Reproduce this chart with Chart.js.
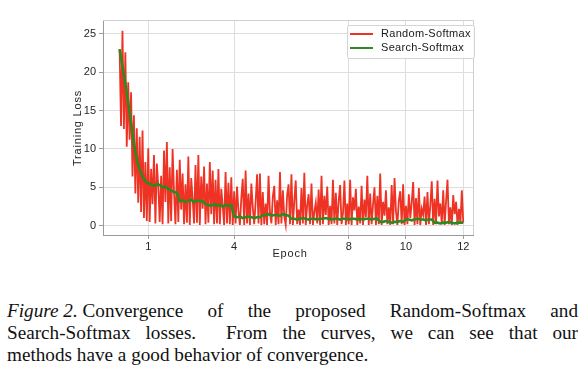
<!DOCTYPE html>
<html>
<head>
<meta charset="utf-8">
<script src="https://cdn.jsdelivr.net/npm/chart.js@4.4.1/dist/chart.umd.min.js"></script>
<style>
  html, body { margin: 0; padding: 0; background: #fff; width: 585px; height: 380px; overflow: hidden; }
  #wrap { position: absolute; left: 0; top: 0; width: 585px; height: 270px; }
  #caption {
    position: absolute; left: 7px; top: 300px; width: 571px;
    font-family: "Liberation Serif", "Times New Roman", serif; font-size: 19.2px;
    line-height: 22.2px; color: #111; white-space: nowrap;
  }
  #caption .j { text-align: justify; text-align-last: justify; }
  #caption .lab { display: inline-block; }
</style>
</head>
<body>
<div id="wrap"><canvas id="c" width="585" height="270"></canvas></div>
<div id="caption">
  <div class="j"><span class="lab"><i>Figure 2.</i>&nbsp;Convergence</span> of the proposed Random-Softmax and</div>
  <div class="j">Search-Softmax losses.&nbsp; From the curves, we can see that our</div>
  <div>methods have a good behavior of convergence.</div>
</div>
<script>
// ---- data ----
const seriesNames = ["Random-Softmax", "Search-Softmax"];
const epochTicks = [1, 4, 8, 10, 12];
const lossTicks = [0, 5, 10, 15, 20, 25];
const randomStep = 0.05;   // epochs between Random-Softmax samples
const searchStep = 0.1;    // epochs between Search-Softmax samples
const randomLoss = [
  23.0, 13.0, 25.4, 12.6, 22.6, 10.3, 18.7, 11.2, 17.4, 6.4,
  14.4, 4.2, 12.7, 3.0, 11.6, 1.8, 12.4, 1.0, 8.3, 0.6,
  10.1, 0.5, 7.4, 2.8, 9.2, 0.3, 8.1, 5.2, 0.5, 6.5,
  0.2, 9.8, 3.1, 10.9, 0.3, 7.6, 0.6, 10.0, 4.4, 0.2,
  7.3, 0.5, 8.6, 2.1, 6.8, 0.2, 5.4, 0.4, 9.0, 0.1,
  6.2, 3.5, 0.3, 7.9, 0.4, 9.2, 0.1, 6.4, 2.2, 7.7,
  0.2, 5.5, 0.4, 8.3, 1.5, 7.2, 0.2, 6.0, 0.3, 7.4,
  0.2, 4.8, 2.6, 0.1, 7.0, 0.3, 5.6, 0.2, 6.3, 0.1,
  4.5, 0.3, 5.1, 1.9, 0.1, 3.6, 6.1, 0.1, 7.2, 0.3,
  4.2, 0.1, 5.5, 2.4, 0.2, 3.1, 6.7, 0.3, 6.8, 0.1,
  4.4, 0.2, 2.9, 0.1, 6.5, 1.7, 0.3, 3.8, 5.2, 0.1,
  3.3, 0.2, 7.0, 0.3, 4.6, 1.2, 0.1, 4.0, 5.4, 0.2,
  6.7, 0.1, 3.2, 5.9, 0.2, 2.1, 0.1, 4.9, 0.3, 6.9,
  0.1, 2.7, 4.1, 0.2, 5.5, 0.1, 1.8, 3.0, 0.3, 4.7,
  0.1, 6.5, 0.2, 3.9, 1.4, 5.1, 0.1, 2.6, 0.2, 6.0,
  0.3, 4.3, 0.1, 3.2, 5.3, 0.2, 1.6, 5.9, 0.1, 2.9,
  0.2, 6.0, 0.1, 3.7, 2.0, 4.8, 0.1, 2.5, 0.3, 5.2,
  0.1, 3.4, 1.1, 6.5, 0.1, 4.2, 0.2, 2.8, 5.0, 0.1,
  3.9, 0.2, 6.8, 0.1, 3.1, 1.3, 4.6, 0.2, 2.4, 0.1,
  5.3, 0.2, 6.2, 1.9, 0.1, 3.3, 4.5, 0.2, 5.4, 0.1,
  2.6, 0.2, 4.1, 1.0, 3.0, 5.7, 0.1, 3.6, 0.2, 4.9,
  0.1, 2.2, 1.4, 3.8, 0.1, 4.4, 0.2, 2.7, 5.8, 0.1,
  3.5, 0.2, 5.9, 1.2, 2.9, 0.2, 4.6, 0.1, 3.2, 6.0,
  0.2, 2.4, 0.1, 4.0, 1.5, 3.1, 0.1, 2.2, 0.3, 4.6,
  0.4
];
const searchLoss = [
  23.0, 20.7, 18.5, 16.0, 13.5, 10.7, 8.6, 7.3, 6.4, 5.8,
  5.5, 5.4, 5.2, 5.4, 5.3, 5.0, 5.1, 4.8, 4.6, 4.4,
  4.3, 3.2, 3.3, 3.1, 3.2, 3.4, 3.1, 3.3, 3.2, 3.2,
  2.8, 2.7, 2.6, 2.8, 2.6, 2.7, 2.5, 2.7, 2.6, 2.7,
  1.2, 1.1, 1.2, 1.0, 1.1, 1.2, 1.1, 1.0, 1.1, 1.1,
  1.4, 1.4, 1.5, 1.3, 1.4, 1.4, 1.3, 1.5, 1.4, 1.3,
  0.9, 0.9, 0.8, 0.9, 1.0, 0.9, 0.8, 0.9, 0.9, 0.8,
  0.9, 0.9, 1.0, 0.9, 0.8, 0.9, 0.9, 0.8, 0.9, 0.9,
  0.8, 0.9, 0.9, 0.8, 0.9, 0.8, 0.9, 0.9, 0.8, 0.9,
  0.9, 0.5, 0.5, 0.6, 0.5, 0.4, 0.5, 0.5, 0.6, 0.5,
  0.8, 0.8, 0.7, 0.8, 0.9, 0.8, 0.8, 0.7, 0.8, 0.8,
  0.4, 0.4, 0.3, 0.4, 0.4, 0.5, 0.4, 0.3, 0.4, 0.4,
  0.4
];
const xLabel = "Epoch";
const yLabel = "Training Loss";

// ---- styling ----
const RED = "#ee3324";
const GREEN = "#2e8a20";
const FONT = "'Liberation Sans', Arial, sans-serif";

const toPoints = (arr, step) => arr.map((v, i) => ({ x: +(i * step).toFixed(4), y: v }));

const decor = {
  id: "decor",
  beforeDatasetsDraw(chart) {
    const { ctx, chartArea: a } = chart;
    ctx.save();
    ctx.strokeStyle = "#cfcfcf";
    ctx.lineWidth = 1;
    ctx.beginPath();
    ctx.moveTo(a.left, Math.round(a.top) + 0.5);
    ctx.lineTo(Math.round(a.right) + 0.5, Math.round(a.top) + 0.5);
    ctx.lineTo(Math.round(a.right) + 0.5, a.bottom);
    ctx.stroke();
    ctx.restore();
  },
  afterDraw(chart) {
    const { ctx } = chart;
    ctx.save();
    // axis titles
    ctx.fillStyle = "#262626";
    ctx.font = "11px " + FONT;
    ctx.letterSpacing = "0.8px";
    ctx.textAlign = "center";
    ctx.textBaseline = "middle";
    ctx.fillText(xLabel, 290, 254);
    ctx.save();
    ctx.translate(77.5, 128);
    ctx.rotate(-Math.PI / 2);
    ctx.fillText(yLabel, 0, 0);
    ctx.restore();

    // legend
    const bx = 347, by = 25, bw = 127, bh = 33;
    ctx.fillStyle = "rgba(255,255,255,0.85)";
    ctx.strokeStyle = "#d4d4d4";
    ctx.lineWidth = 1;
    ctx.beginPath();
    ctx.roundRect(bx + 0.5, by + 0.5, bw, bh, 2);
    ctx.fill();
    ctx.stroke();
    const rows = [[seriesNames[0], RED, 34], [seriesNames[1], GREEN, 48]];
    ctx.textAlign = "left";
    ctx.letterSpacing = "0.3px";
    for (const [name, col, y] of rows) {
      ctx.strokeStyle = col;
      ctx.lineWidth = 2;
      ctx.beginPath();
      ctx.moveTo(350, y);
      ctx.lineTo(373, y);
      ctx.stroke();
      ctx.fillStyle = "#1a1a1a";
      ctx.fillText(name, 381, y);
    }
    ctx.restore();
  }
};

new Chart(document.getElementById("c"), {
  type: "line",
  data: {
    datasets: [
      { label: seriesNames[0], data: toPoints(randomLoss, randomStep), borderColor: RED, borderWidth: 1.8, pointRadius: 0, tension: 0, order: 2 },
      { label: seriesNames[1], data: toPoints(searchLoss, searchStep), borderColor: GREEN, borderWidth: 2.6, pointRadius: 0, tension: 0, order: 1 }
    ]
  },
  options: {
    responsive: false,
    animation: false,
    events: [],
    layout: { padding: { top: 20, right: 112, left: 0, bottom: 0 } },
    plugins: { legend: { display: false }, tooltip: { enabled: false } },
    scales: {
      x: {
        type: "linear", min: -0.58, max: 12.34,
        afterBuildTicks: s => { s.ticks = epochTicks.map(v => ({ value: v })); },
        afterFit: s => { s.height = 35; },
        grid: { color: "#dedede", lineWidth: 1, drawTicks: true, tickLength: 4, tickColor: "#9a9a9a" },
        border: { display: true, color: "#9a9a9a", width: 1 },
        ticks: { font: { family: FONT, size: 11 }, color: "#262626", padding: 1, maxRotation: 0 }
      },
      y: {
        type: "linear", min: -1.21, max: 26.8,
        afterBuildTicks: s => { s.ticks = lossTicks.map(v => ({ value: v })); },
        afterFit: s => { s.width = 103; },
        grid: { color: "#dedede", lineWidth: 1, drawTicks: true, tickLength: 4, tickColor: "#9a9a9a" },
        border: { display: true, color: "#9a9a9a", width: 1 },
        ticks: { font: { family: FONT, size: 11 }, color: "#262626", padding: 3 }
      }
    }
  },
  plugins: [decor]
});
</script>
</body>
</html>
